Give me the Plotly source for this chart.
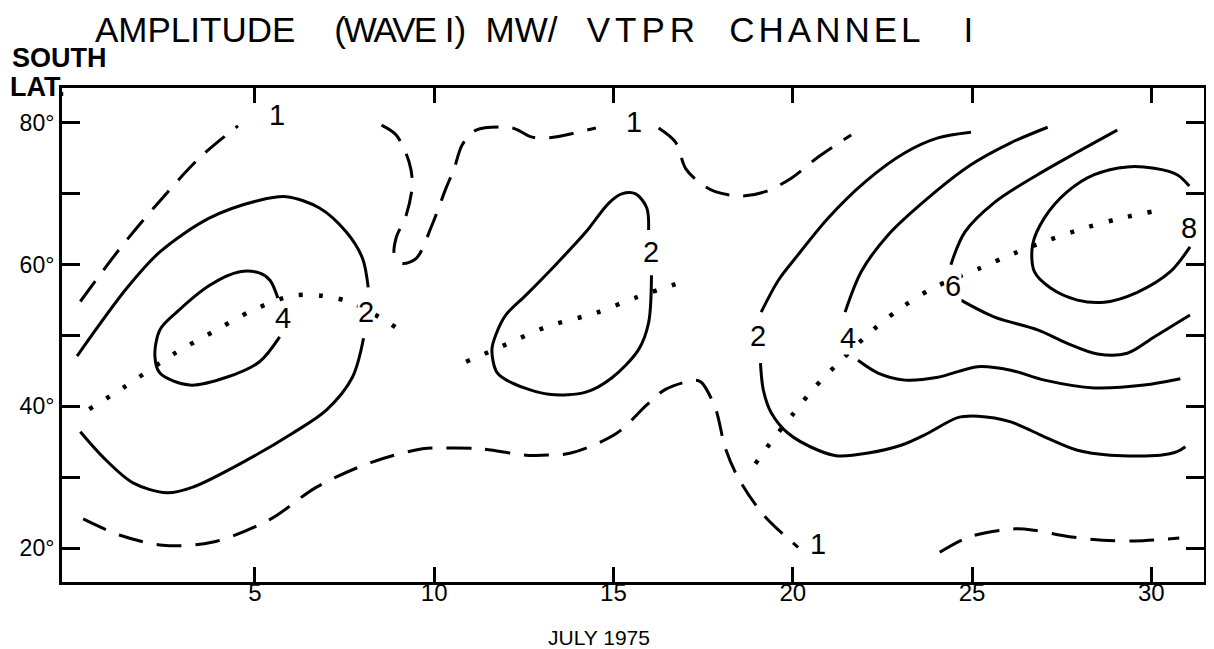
import plotly.graph_objects as go

# ---------------- data (day of July 1975, south latitude in degrees) ----------------
# contour 1 (dashed)
c1_a_day = [0.13, 1.24, 2.35, 3.46, 4.53]
c1_a_lat = [54.8, 62.3, 69.0, 75.1, 79.6]

c1_b_day = [0.21, 1.24, 2.43, 3.80, 5.41, 6.72, 8.25, 9.67, 10.36, 11.31, 12.56, 13.01,
            13.81, 15.09, 15.93, 16.45, 17.29, 17.45, 17.84, 18.12, 18.48, 19.18, 20.15]
c1_b_lat = [24.1, 21.8, 20.4, 20.8, 24.0, 28.6, 32.1, 34.0, 34.1, 34.0, 33.1, 33.1,
            33.4, 36.2, 40.2, 42.4, 43.7, 43.4, 39.8, 34.1, 29.9, 24.7, 20.1]

c1_c1_day = [8.53, 8.94, 9.30, 9.39, 9.22, 8.94, 8.89, 9.11, 9.50, 9.94, 10.33, 10.56,
             10.78, 11.17, 12.17, 12.73, 13.20, 13.67, 14.51]
c1_c1_lat = [79.7, 78.3, 74.5, 71.3, 67.0, 63.8, 61.4, 60.2, 60.9, 65.6, 70.8, 73.6,
             76.9, 79.0, 79.3, 78.0, 77.9, 78.3, 79.3]
c1_c2_day = [16.26, 16.73, 17.01, 17.37, 17.84, 18.57, 19.23, 19.96, 20.71, 21.63]
c1_c2_lat = [79.3, 77.3, 73.6, 71.7, 70.3, 69.7, 70.3, 72.2, 75.2, 78.3]

c1_d_day = [24.10, 24.94, 26.22, 26.74, 27.72, 28.64, 29.55, 30.78]
c1_d_lat = [19.4, 21.6, 22.7, 22.5, 21.6, 21.1, 21.0, 21.4]

# contour 2 (solid)
c2_a1_day = [0.04, 1.43, 2.35, 3.74, 5.13, 5.88, 6.80, 7.55, 8.00, 8.16]
c2_a1_lat = [47.1, 56.7, 61.8, 66.6, 69.1, 69.6, 68.0, 64.6, 60.9, 56.8]
c2_a2_day = [8.03, 7.72, 7.00, 6.05, 4.77, 3.27, 2.55, 1.60, 0.77, 0.13]
c2_a2_lat = [49.6, 44.1, 39.5, 36.2, 32.4, 28.6, 27.8, 29.2, 32.8, 36.4]

c2_b_day = [15.98, 15.93, 15.62, 15.23, 14.87, 14.23, 13.39, 12.56, 12.00, 11.72, 11.61,
            11.75, 12.17, 13.20, 14.23, 14.95, 15.70, 15.98, 16.06]
c2_b_lat = [64.9, 68.0, 70.0, 70.0, 68.7, 64.6, 60.0, 55.7, 52.9, 50.1, 48.0,
            44.8, 43.3, 41.7, 42.0, 44.0, 48.0, 51.8, 58.5]

c2_c1_day = [24.97, 24.05, 23.13, 22.02, 20.99, 20.07, 19.60, 19.12]
c2_c1_lat = [78.7, 77.9, 75.8, 71.7, 66.6, 60.9, 57.8, 53.3]
c2_c2_day = [19.10, 19.18, 19.40, 19.87, 20.71, 21.26, 22.10, 23.02, 23.77, 24.60, 25.16,
             26.08, 27.02, 27.94, 28.86, 30.25, 30.72, 30.95]
c2_c2_lat = [46.1, 42.3, 39.1, 36.2, 33.8, 33.0, 33.4, 34.5, 36.2, 38.4, 38.6,
             37.8, 35.7, 33.8, 33.1, 33.1, 33.6, 34.3]

# contour 4 (solid)
c4_a_day = [5.64, 5.42, 5.14, 4.58, 3.74, 2.82, 2.35, 2.21, 2.35, 3.18, 4.21, 5.13, 5.69]
c4_a_lat = [55.3, 57.8, 58.8, 59.0, 57.1, 53.3, 50.8, 47.2, 44.7, 43.0, 44.1, 46.3, 49.8]

c4_b1_day = [27.11, 26.08, 24.97, 23.77, 22.66, 21.91, 21.46]
c4_b1_lat = [79.4, 77.2, 74.1, 69.4, 64.2, 59.0, 53.3]
c4_b2_day = [21.82, 22.38, 23.13, 24.05, 25.16, 26.08, 27.02, 28.41, 29.80, 30.81]
c4_b2_lat = [46.5, 44.7, 43.7, 44.1, 45.6, 45.1, 43.7, 42.6, 43.0, 43.9]

# contour 6 (solid)
c6_1_day = [29.05, 27.94, 26.83, 25.63, 24.80, 24.41]
c6_1_lat = [79.0, 75.9, 72.7, 68.8, 64.6, 60.0]
c6_2_day = [24.69, 25.63, 26.83, 27.66, 28.50, 29.33, 30.08, 31.08]
c6_2_lat = [55.0, 52.6, 50.8, 48.9, 47.4, 47.5, 49.8, 52.9]

# contour 8 (solid)
c8_day = [31.06, 30.72, 30.08, 29.33, 28.41, 27.66, 27.02, 26.69, 26.74, 27.19, 27.94,
          28.69, 29.61, 30.53, 31.08]
c8_lat = [71.1, 72.7, 73.6, 73.8, 72.7, 70.3, 66.6, 62.8, 59.0, 56.7, 55.0,
          54.7, 56.1, 59.0, 62.5]

# ridge (dotted) lines
ridge_a_day = [0.38, 1.32, 2.77, 3.83, 4.91, 6.05, 6.88, 7.72, 8.69, 9.11]
ridge_a_lat = [39.6, 42.6, 47.5, 50.5, 53.5, 55.6, 55.6, 54.6, 51.9, 50.5]
ridge_b_day = [10.89, 11.90, 13.12, 14.51, 15.65, 16.99]
ridge_b_lat = [46.3, 48.5, 51.2, 53.2, 55.4, 57.7]
ridge_c_day = [18.96, 19.40, 19.99, 20.60, 21.35, 22.24, 23.05, 23.91, 25.22, 26.13,
               26.99, 28.16, 29.19, 30.44]
ridge_c_lat = [31.9, 35.0, 38.8, 42.6, 46.5, 50.8, 54.0, 56.7, 59.5, 61.5,
               63.2, 65.2, 66.6, 67.9]

# contour labels
label_text = ["1", "1", "1", "2", "4", "2", "2", "4", "6", "8"]
label_day = [5.63, 15.56, 20.70, 8.11, 5.77, 16.06, 19.04, 21.54, 24.46, 31.06]
label_lat = [81.1, 80.1, 20.5, 53.3, 52.5, 61.8, 49.9, 49.6, 57.0, 65.2]

x_ticks = [5, 10, 15, 20, 25, 30]
y_ticks = [20, 30, 40, 50, 60, 70, 80]
y_tick_text = ["20°", "", "40°", "", "60°", "", "80°"]

NB = "\u00a0"
TITLE = ("AMPLITUDE" + NB * 4 +
         '<span style="letter-spacing:-2px">(WAVE</span>' + NB + "I)" + NB * 2 +
         "MW/" + NB * 3 +
         '<span style="letter-spacing:5px">VTPR</span>' + NB * 3 +
         '<span style="letter-spacing:4px">CHANNEL</span>' + NB * 4 + "I")

# ---------------- figure ----------------
fig = go.Figure()

DASH = "25px,14px"
DOT = "4px,16px"


def add_line(xs, ys, dash="solid", width=3):
    fig.add_trace(go.Scatter(
        x=xs, y=ys, mode="lines",
        line=dict(color="black", width=width, dash=dash, shape="spline", smoothing=0.9),
        hoverinfo="skip", showlegend=False))


for xs, ys in [(c1_a_day, c1_a_lat), (c1_b_day, c1_b_lat), (c1_c1_day, c1_c1_lat),
               (c1_c2_day, c1_c2_lat), (c1_d_day, c1_d_lat)]:
    add_line(xs, ys, dash=DASH)

for xs, ys in [(c2_a1_day, c2_a1_lat), (c2_a2_day, c2_a2_lat), (c2_b_day, c2_b_lat),
               (c2_c1_day, c2_c1_lat), (c2_c2_day, c2_c2_lat),
               (c4_a_day, c4_a_lat), (c4_b1_day, c4_b1_lat), (c4_b2_day, c4_b2_lat),
               (c6_1_day, c6_1_lat), (c6_2_day, c6_2_lat), (c8_day, c8_lat)]:
    add_line(xs, ys)

for xs, ys in [(ridge_a_day, ridge_a_lat), (ridge_b_day, ridge_b_lat), (ridge_c_day, ridge_c_lat)]:
    add_line(xs, ys, dash=DOT, width=4.5)

FONT = "Liberation Sans, Arial, sans-serif"

for t, xd, yd in zip(label_text, label_day, label_lat):
    fig.add_annotation(x=xd, y=yd, text=t, showarrow=False,
                       font=dict(family=FONT, size=29, color="black"),
                       bgcolor="white", borderpad=0)

# page geometry of the plotting frame (the page body adds an 8px offset)
OFF = 8
PL, PR, PT, PB = 62, 1207, 88, 582
PW, PH = PR - PL, PB - PT
FIG_W, FIG_H = 1214 - OFF, 649 - OFF


def px_x(px):
    return (px - PL) / PW


def px_y(py):
    return (PB - py) / PH


fig.update_layout(
    width=FIG_W, height=FIG_H,
    margin=dict(l=PL - OFF, r=FIG_W - (PR - OFF), t=PT - OFF, b=FIG_H - (PB - OFF)),
    paper_bgcolor="white", plot_bgcolor="white",
    showlegend=False,
    title=dict(text=TITLE, x=(95 - OFF) / FIG_W, xanchor="left", xref="container",
               y=1 - (30 - OFF) / FIG_H, yanchor="middle", yref="container",
               font=dict(family=FONT, size=35, color="black")),
)

fig.update_xaxes(range=[-0.38, 31.47], tickvals=x_ticks, ticks="inside", ticklen=15,
                 tickwidth=3, tickcolor="black", showline=True, linewidth=3,
                 linecolor="black", mirror="ticks", showgrid=False, zeroline=False,
                 ticklabelstandoff=-13,
                 tickfont=dict(family=FONT, size=24, color="black"))
fig.update_yaxes(range=[15.2, 84.94], tickvals=y_ticks, ticktext=y_tick_text,
                 ticks="inside", ticklen=18, tickwidth=3, tickcolor="black",
                 showline=True, linewidth=3, linecolor="black", mirror="ticks",
                 showgrid=False, zeroline=False,
                 tickfont=dict(family=FONT, size=23, color="black"))

fig.add_annotation(text="<b>SOUTH</b>", xref="paper", yref="paper",
                   x=px_x(10), y=px_y(58), xanchor="left", yanchor="middle",
                   showarrow=False, font=dict(family=FONT, size=27, color="black"))
fig.add_annotation(text="<b>LAT.</b>", xref="paper", yref="paper",
                   x=px_x(8), y=px_y(87), xanchor="left", yanchor="middle",
                   showarrow=False, font=dict(family=FONT, size=27, color="black"))
fig.add_annotation(text="JULY 1975", xref="paper", yref="paper",
                   x=px_x(600), y=px_y(637), xanchor="center", yanchor="middle",
                   showarrow=False, font=dict(family=FONT, size=21, color="black"))

fig.write_html("out.html")
